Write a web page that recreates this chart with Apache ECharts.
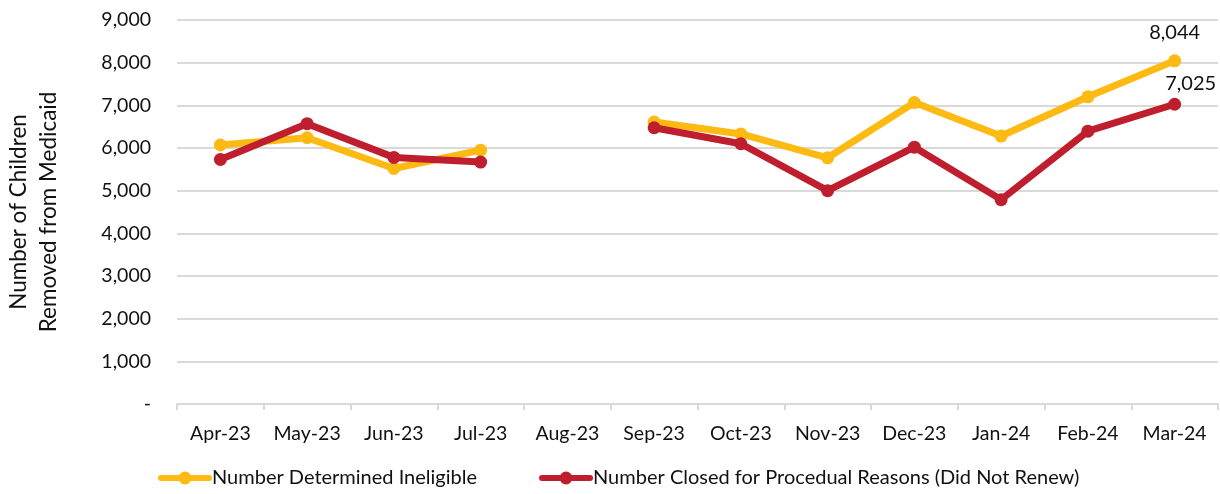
<!DOCTYPE html>
<html>
<head>
<meta charset="utf-8">
<script src="https://cdn.jsdelivr.net/npm/echarts@6/dist/echarts.min.js"></script>
<style>
  html, body { margin: 0; padding: 0; background: #fff; }
  #main { width: 1220px; height: 494px; }
</style>
</head>
<body>
<div id="main"></div>
<script>
// 月份
var months = ['Apr-23', 'May-23', 'Jun-23', 'Jul-23', 'Aug-23', 'Sep-23', 'Oct-23', 'Nov-23', 'Dec-23', 'Jan-24', 'Feb-24', 'Mar-24'];
// Aug-23 没有数据
var ineligible = [6070, 6240, 5520, 5950, null, 6610, 6330, 5770, 7065, 6280, 7200, 8044];
var procedural = [5730, 6570, 5780, 5670, null, 6475, 6100, 5000, 6020, 4790, 6395, 7025];
var yTicks = [0, 1000, 2000, 3000, 4000, 5000, 6000, 7000, 8000, 9000];

var font = 'Lato, "Open Sans", sans-serif';
var lastIdx = months.length - 1;
// 图例图标: 粗线 + 圆点
var legendIcon = 'path://M3,4 L51,4 A3,3 0 0,1 51,10 L3,10 A3,3 0 0,1 3,4 Z M27,0.5 A6.5,6.5 0 1,1 26.99,0.5 Z';

function fmt(v) {
  return v === 0 ? '-' : v.toLocaleString('en-US');
}

function lastLabel(params) {
  return params.dataIndex === lastIdx ? fmt(params.value) : '';
}

var myChart = echarts.init(document.getElementById('main'));
myChart.setOption({
  animation: false,
  textStyle: { fontFamily: font },
  grid: { left: 177, right: 2, top: 20, bottom: 90, outerBoundsMode: 'none' },
  legend: {
    bottom: 1,
    left: 153,
    itemGap: 62,
    itemWidth: 54,
    itemHeight: 14,
    textStyle: { fontSize: 20, color: '#111', fontFamily: font, padding: [0, 0, 0, -5] },
    data: [
      { name: 'Number Determined Ineligible', icon: legendIcon },
      { name: 'Number Closed for Procedual Reasons (Did Not Renew)', icon: legendIcon }
    ]
  },
  xAxis: {
    type: 'category',
    data: months,
    boundaryGap: true,
    axisLine: { lineStyle: { color: '#d9d9d9', width: 2 } },
    axisTick: { show: true, length: 6, lineStyle: { color: '#d9d9d9', width: 2 } },
    axisLabel: { color: '#111', fontSize: 19.5, margin: 20, interval: 0 }
  },
  yAxis: {
    type: 'value',
    min: yTicks[0],
    max: yTicks[yTicks.length - 1],
    interval: 1000,
    name: 'Number of Children\nRemoved from Medicaid',
    nameLocation: 'middle',
    nameGap: 113,
    nameTextStyle: { fontSize: 22.5, color: '#111', lineHeight: 30, fontFamily: font },
    axisLine: { show: false },
    axisTick: { show: false },
    splitLine: { lineStyle: { color: '#d9d9d9', width: 2 } },
    axisLabel: { color: '#111', fontSize: 19.5, margin: 26, formatter: fmt }
  },
  series: [{
    name: 'Number Determined Ineligible',
    type: 'line',
    data: ineligible,
    connectNulls: false,
    symbol: 'circle',
    symbolSize: 13,
    color: '#FDBA12',
    lineStyle: { width: 7, color: '#FDBA12' },
    label: { show: true, position: 'top', distance: 12, fontSize: 20, color: '#111', formatter: lastLabel }
  }, {
    name: 'Number Closed for Procedual Reasons (Did Not Renew)',
    type: 'line',
    data: procedural,
    connectNulls: false,
    symbol: 'circle',
    symbolSize: 13,
    color: '#BE1E2D',
    lineStyle: { width: 7, color: '#BE1E2D' },
    label: { show: true, position: 'top', distance: 4, offset: [16, 0], fontSize: 20, color: '#111', formatter: lastLabel }
  }]
});
</script>
</body>
</html>
